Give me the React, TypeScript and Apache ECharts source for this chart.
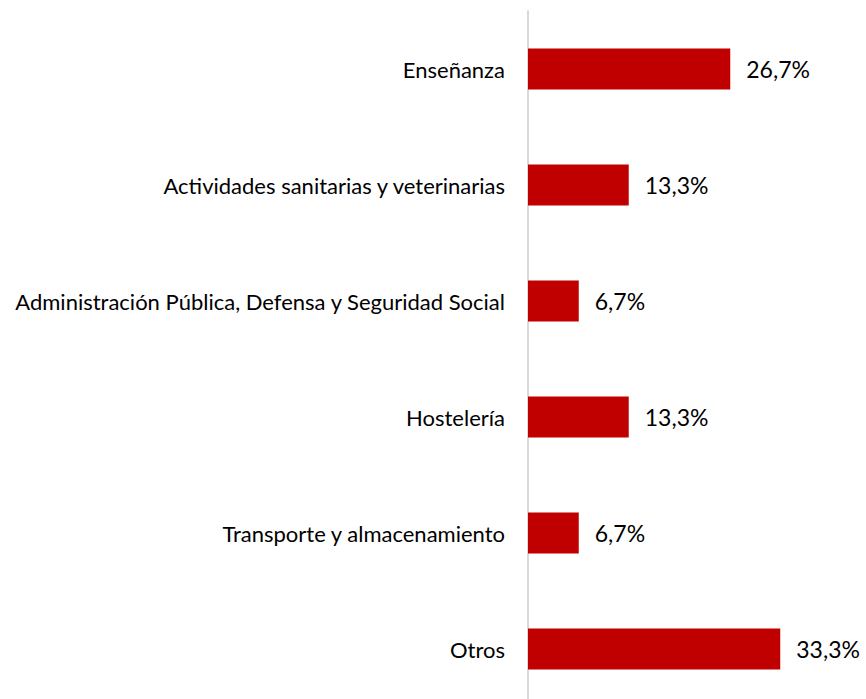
import React, { useEffect, useRef } from "react";
import * as echarts from "echarts";

const categories = [
  "Enseñanza",
  "Actividades sanitarias y veterinarias",
  "Administración Pública, Defensa y Seguridad Social",
  "Hostelería",
  "Transporte y almacenamiento",
  "Otros",
];
const values = [26.7, 13.3, 6.7, 13.3, 6.7, 33.3];

export default function App() {
  const ref = useRef<HTMLDivElement>(null);
  useEffect(() => {
    if (!ref.current) return;
    const chart = echarts.init(ref.current, null, { renderer: "svg" });
    chart.setOption({
      animation: false,
      backgroundColor: "#ffffff",
      grid: { left: 528, right: 35, top: 11, bottom: 0, containLabel: false },
      xAxis: {
        type: "value",
        min: 0,
        max: 40,
        show: false,
      },
      yAxis: {
        type: "category",
        data: categories,
        inverse: true,
        axisLine: { show: true, lineStyle: { color: "#d9d9d9", width: 2 } },
        axisTick: { show: false },
        splitLine: { show: false },
        axisLabel: {
          margin: 23,
          color: "#000000",
          fontFamily: "Lato",
          fontSize: 22,
        },
      },
      series: [
        {
          type: "bar",
          data: values,
          barWidth: 41,
          itemStyle: { color: "#C00000" },
          label: {
            show: true,
            position: "right",
            distance: 16,
            color: "#000000",
            fontFamily: "Lato",
            fontSize: 23,
            formatter: (p: any) => p.value.toFixed(1).replace(".", ",") + "%",
          },
        },
      ],
    });
    return () => chart.dispose();
  }, []);
  return (
    <div style={{ position: "absolute", left: 0, top: 0, width: 866, height: 699, overflow: "hidden" }}>
      <div ref={ref} style={{ width: 866, height: 707 }} />
    </div>
  );
}
